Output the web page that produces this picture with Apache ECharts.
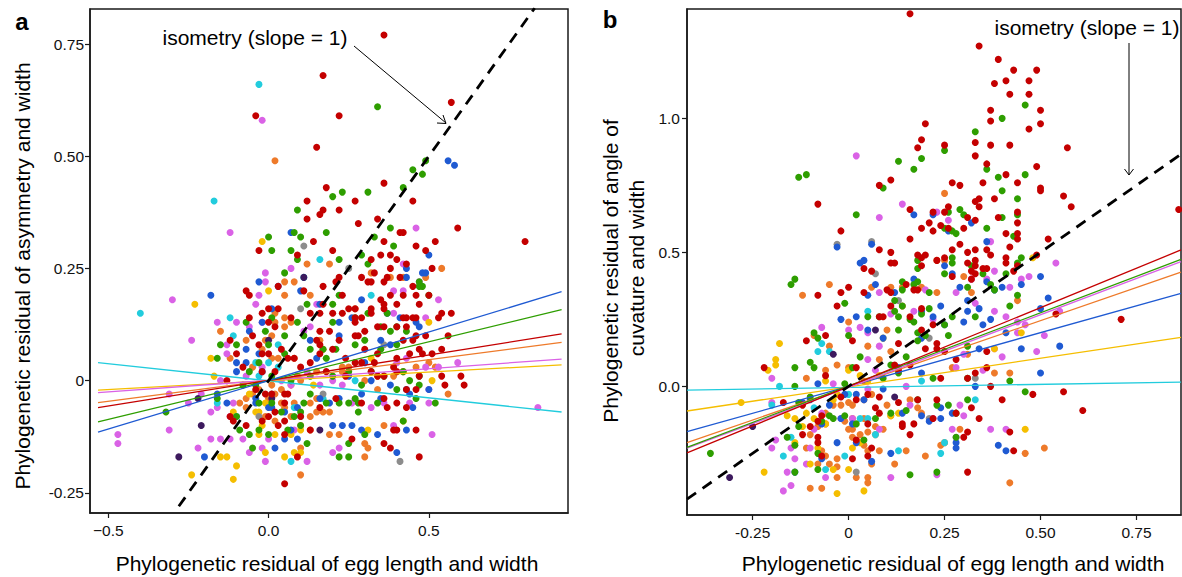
<!DOCTYPE html>
<html><head><meta charset="utf-8">
<script src="https://cdn.jsdelivr.net/npm/echarts@6/dist/echarts.min.js"></script>
<style>html,body{margin:0;padding:0;background:#fff}#c{width:1182px;height:577px}</style>
</head><body><div id="c"></div>
<script>
// ---------- Panel a : asymmetry vs egg length ----------
const aRed = [[0.36,0.77],[0.17,0.68],[-0.04,0.59],[0.22,0.59],[0.57,0.62],[0.15,0.52],[0.36,0.44],[0.18,0.43],[0.12,0.40],[0.27,0.40],[0.45,0.40],[0.17,0.38],[0.16,0.37],[0.22,0.38],[0.12,0.36],[0.34,0.36],[0.28,0.35],[0.59,0.34],[0.41,0.33],[0.42,0.33],[0.80,0.31],[0.52,0.31],[0.46,0.30],[0.14,0.31],[0.36,0.31],[-0.03,0.29],[0.09,0.28],[0.20,0.29],[0.49,0.29],[0.35,0.28],[0.38,0.28],[0.40,0.27],[0.43,0.26],[0.51,0.25],[0.32,0.27],[0.38,0.25],[0.03,0.21],[-0.07,0.20],[-0.06,0.19],[0.11,0.20],[0.17,0.21],[0.21,0.22],[0.22,0.23],[0.23,0.19],[0.29,0.23],[0.31,0.22],[0.32,0.22],[0.33,0.24],[0.36,0.22],[0.37,0.23],[0.41,0.23],[0.45,0.21],[0.46,0.19],[0.50,0.19],[0.42,0.19],[0.47,0.17],[0.35,0.18],[0.36,0.17],[0.32,0.16],[0.32,0.15],[0.36,0.16],[0.42,0.14],[0.43,0.14],[0.45,0.14],[0.46,0.14],[0.53,0.14],[0.57,0.15],[0.54,0.15],[0.40,0.17],[0.38,0.19],[0.27,0.16],[0.27,0.14],[0.25,0.16],[0.29,0.14],[0.23,0.15],[0.20,0.15],[0.17,0.17],[0.16,0.15],[0.13,0.15],[0.07,0.14],[0.03,0.16],[0.00,0.16],[-0.02,0.15],[0.00,0.13],[0.02,0.12],[-0.06,0.14],[-0.05,0.10],[-0.03,0.08],[-0.02,0.06],[0.00,0.06],[0.04,0.07],[0.06,0.05],[0.08,0.05],[0.15,0.09],[0.16,0.08],[0.16,0.11],[0.19,0.11],[0.20,0.07],[0.22,0.09],[0.27,0.10],[0.27,0.13],[0.28,0.10],[0.30,0.11],[0.34,0.12],[0.36,0.12],[0.40,0.12],[0.43,0.12],[0.42,0.09],[0.45,0.09],[0.47,0.07],[0.46,0.10],[0.49,0.10],[0.56,0.10],[0.54,0.07],[0.51,0.06],[0.48,0.06],[0.44,0.06],[0.40,0.05],[0.34,0.06],[0.33,0.04],[0.30,0.07],[0.29,0.04],[0.24,0.05],[0.27,0.04],[0.16,0.06],[0.13,0.04],[0.10,0.03],[0.18,0.02],[0.24,0.01],[0.32,0.02],[0.39,0.03],[0.47,0.01],[0.54,0.01],[0.60,0.01],[0.61,-0.01],[0.55,-0.01],[0.46,-0.02],[0.43,-0.02],[0.40,0.02],[0.36,0.01],[0.34,0.01],[0.02,0.02],[-0.02,0.02],[-0.08,0.03],[-0.10,0.06],[-0.12,0.09],[-0.13,0.00],[-0.04,-0.02],[-0.01,-0.03],[0.01,-0.03],[0.05,-0.03],[0.06,-0.03],[0.05,-0.05],[0.00,-0.08],[-0.02,-0.09],[0.03,-0.10],[0.05,-0.09],[0.10,-0.08],[0.13,-0.11],[0.16,-0.06],[0.21,-0.04],[0.29,-0.05],[0.36,-0.04],[0.37,-0.06],[0.40,-0.05],[0.43,-0.06],[0.39,-0.11],[0.40,-0.11],[0.46,-0.11],[0.36,-0.14],[0.38,-0.15],[0.47,-0.17],[0.26,-0.13],[0.05,-0.12],[0.05,-0.23],[0.09,-0.17],[-0.07,-0.10],[-0.11,-0.09],[-0.12,-0.08],[0.02,-0.07]];
const aGreen = [[0.34,0.61],[0.49,0.49],[0.45,0.47],[0.48,0.46],[0.42,0.43],[0.23,0.42],[0.31,0.42],[0.20,0.41],[0.09,0.38],[0.18,0.33],[0.08,0.33],[0.10,0.32],[0.00,0.32],[0.01,0.29],[0.07,0.29],[0.09,0.27],[0.05,0.24],[0.22,0.27],[0.29,0.28],[0.31,0.26],[0.33,0.32],[0.38,0.34],[0.39,0.30],[0.22,0.19],[0.20,0.17],[0.12,0.17],[0.09,0.13],[0.01,0.14],[-0.07,0.13],[-0.01,0.11],[0.05,0.10],[0.11,0.10],[0.20,0.13],[0.27,0.14],[0.31,0.15],[0.35,0.12],[0.37,0.15],[0.40,0.12],[0.47,0.22],[0.47,0.21],[0.48,0.21],[0.50,0.19],[0.43,0.11],[0.38,0.11],[0.40,0.08],[0.35,0.07],[0.30,0.09],[0.27,0.08],[0.21,0.07],[0.17,0.07],[0.13,0.07],[0.05,0.06],[0.00,0.08],[-0.03,0.04],[-0.06,0.02],[-0.10,0.08],[-0.15,0.08],[-0.16,0.05],[-0.08,-0.01],[-0.04,-0.01],[0.01,0.01],[0.07,0.00],[0.13,0.01],[0.18,0.05],[0.20,0.01],[0.25,0.02],[0.29,-0.01],[0.32,0.02],[0.36,0.01],[0.42,0.02],[0.44,0.00],[0.47,-0.01],[0.47,0.01],[0.52,-0.05],[0.46,-0.04],[0.42,-0.09],[0.40,-0.02],[0.34,-0.05],[0.28,-0.05],[0.27,-0.04],[0.25,-0.05],[0.22,-0.05],[0.18,-0.05],[0.13,-0.03],[0.11,-0.05],[0.10,-0.07],[0.08,-0.08],[0.04,-0.07],[0.01,-0.05],[-0.03,-0.05],[-0.03,-0.11],[-0.09,-0.11],[-0.06,-0.12],[-0.05,-0.15],[0.00,-0.12],[0.06,-0.11],[0.10,-0.10],[0.12,-0.14],[0.22,-0.17],[0.25,-0.17],[0.28,-0.07],[0.30,-0.12],[0.25,-0.14],[-0.32,-0.07],[-0.16,-0.04],[-0.10,-0.08]];
const aBlue = [[0.56,0.49],[0.58,0.48],[0.07,0.33],[-0.03,0.22],[-0.18,0.19],[0.03,0.21],[0.10,0.20],[0.16,0.17],[0.22,0.13],[0.26,0.14],[0.29,0.18],[0.43,0.23],[0.43,0.25],[0.48,0.24],[0.49,0.24],[0.50,0.28],[0.37,0.15],[0.41,0.14],[0.46,0.13],[0.47,0.12],[0.35,0.09],[0.38,0.08],[0.30,0.04],[0.32,0.00],[0.38,-0.01],[0.43,-0.02],[0.44,-0.03],[0.50,-0.02],[0.35,-0.04],[0.29,-0.03],[0.22,-0.04],[0.19,-0.05],[0.16,-0.04],[0.09,-0.06],[0.05,-0.07],[0.01,-0.06],[0.00,-0.06],[-0.04,-0.05],[-0.04,-0.04],[-0.07,0.04],[-0.02,0.02],[-0.03,0.06],[-0.07,0.07],[-0.06,0.11],[-0.02,0.13],[0.01,0.16],[0.13,0.09],[0.15,0.05],[0.22,0.10],[0.25,0.01],[0.26,-0.10],[0.29,-0.11],[0.34,-0.12],[0.40,-0.16],[0.43,-0.11],[0.20,-0.10],[0.23,-0.10],[0.07,-0.11],[0.09,-0.13],[0.02,-0.15],[-0.20,-0.17],[-0.16,-0.03],[-0.10,0.02],[-0.10,0.04],[-0.13,-0.05],[0.45,-0.06],[0.05,-0.13]];
const aOrange = [[0.02,0.49],[0.12,0.26],[0.19,0.26],[0.54,0.25],[0.49,0.23],[0.42,0.23],[0.38,0.23],[0.32,0.24],[0.27,0.16],[0.13,0.19],[0.08,0.22],[0.05,0.22],[0.05,0.19],[0.02,0.15],[0.05,0.14],[0.05,0.12],[0.07,0.13],[0.02,0.13],[0.01,0.10],[-0.01,0.09],[-0.02,0.07],[-0.07,0.09],[-0.15,0.11],[-0.12,0.05],[-0.05,0.03],[0.01,0.05],[0.03,0.05],[0.08,0.05],[0.09,0.01],[0.10,0.00],[0.07,-0.01],[0.04,-0.02],[0.02,-0.03],[0.04,-0.05],[0.00,-0.04],[0.08,-0.05],[0.13,-0.05],[0.15,-0.07],[0.17,-0.07],[0.19,-0.07],[0.13,-0.08],[0.10,-0.10],[0.13,-0.11],[0.19,-0.12],[0.22,-0.12],[0.30,-0.14],[0.31,-0.15],[0.30,-0.17],[0.36,-0.10],[0.15,-0.04],[0.16,0.09],[0.17,0.07],[0.15,0.02],[0.23,0.03],[0.25,0.03],[0.23,0.02],[0.30,0.00],[0.34,0.01],[0.39,0.01],[0.46,0.03],[0.56,-0.03],[0.52,0.03],[0.50,0.04],[0.42,0.02],[-0.09,-0.05],[-0.07,-0.04],[-0.05,-0.03],[-0.03,-0.02],[0.01,-0.01],[-0.07,-0.06],[0.05,-0.06],[-0.01,-0.08],[0.02,-0.09],[0.10,-0.15],[0.10,-0.21],[0.34,-0.02],[0.07,-0.08]];
const aMagenta = [[-0.02,0.58],[-0.12,0.33],[-0.30,0.18],[-0.24,0.09],[-0.16,0.13],[-0.13,0.08],[-0.10,0.13],[-0.06,0.12],[-0.02,0.13],[-0.01,0.24],[-0.01,0.22],[-0.04,0.17],[-0.03,0.19],[0.07,0.25],[0.13,0.12],[0.15,0.17],[0.11,0.11],[0.46,0.34],[0.42,0.26],[0.39,0.20],[0.47,0.22],[0.42,0.20],[0.53,0.18],[0.49,0.14],[0.39,0.15],[0.40,0.04],[0.43,0.05],[0.53,0.03],[0.59,0.04],[0.49,0.03],[0.50,-0.02],[0.50,-0.05],[0.44,-0.05],[0.39,-0.10],[0.32,-0.06],[0.36,-0.05],[0.26,-0.05],[0.23,-0.01],[0.20,0.00],[0.16,-0.01],[0.12,0.02],[0.07,-0.01],[0.04,0.00],[-0.02,0.03],[-0.07,0.01],[-0.13,0.06],[-0.15,0.00],[-0.21,-0.03],[-0.25,-0.05],[-0.31,-0.03],[-0.31,-0.11],[-0.47,-0.12],[-0.47,-0.14],[-0.15,-0.13],[-0.22,-0.15],[-0.12,-0.13],[-0.08,-0.13],[-0.06,-0.16],[-0.02,-0.15],[-0.01,-0.18],[0.00,-0.13],[0.08,-0.11],[0.12,-0.18],[0.20,-0.16],[0.22,-0.15],[0.51,-0.12],[0.84,-0.06],[-0.11,-0.05],[-0.12,-0.08],[-0.16,-0.06],[-0.18,-0.07],[-0.18,-0.13]];
const aYellow = [[-0.02,0.31],[0.00,0.20],[-0.23,0.17],[0.50,0.13],[0.51,0.00],[-0.18,0.05],[-0.17,0.01],[-0.08,-0.01],[-0.06,-0.03],[-0.04,-0.07],[-0.03,-0.12],[-0.02,-0.10],[-0.01,-0.16],[0.02,-0.12],[0.07,-0.12],[0.10,-0.11],[0.08,-0.16],[0.10,-0.16],[0.05,-0.17],[-0.15,-0.17],[-0.13,-0.17],[-0.10,-0.19],[-0.11,-0.22],[-0.24,-0.21],[-0.03,-0.07],[-0.11,-0.07],[-0.01,-0.05],[0.14,-0.01],[0.31,-0.11],[0.42,-0.09],[0.32,0.05]];
const aCyan = [[-0.03,0.66],[-0.17,0.40],[-0.40,0.15],[0.16,0.27],[0.32,0.19],[0.11,0.23],[-0.12,0.14],[-0.11,0.10],[0.03,0.08],[0.00,0.04],[-0.03,0.01],[-0.04,0.04],[-0.16,-0.05],[-0.10,-0.08],[0.08,-0.06],[0.10,-0.08],[0.07,-0.18],[0.27,0.00],[0.17,-0.04],[0.03,0.03]];
const aGray = [[0.11,0.30],[0.25,0.25],[0.10,0.16],[0.36,0.08],[0.01,-0.03],[-0.03,-0.08],[0.17,-0.03],[0.41,-0.18]];
const aPurple = [[0.11,0.23],[0.00,0.09],[-0.22,-0.04],[-0.21,-0.10],[-0.28,-0.17],[0.16,-0.11],[0.01,-0.04]];
// fitted lines (x range, y at both ends)
const aFitX = [-0.532, 0.914];
const aFitCyan = [0.040, -0.070];
const aFitYellow = [-0.021, 0.035];
const aFitMagenta = [-0.027, 0.048];
const aFitOrange = [-0.049, 0.085];
const aFitRed = [-0.060, 0.104];
const aFitGreen = [-0.092, 0.158];
const aFitBlue = [-0.115, 0.198];
const aIsoX = [-0.28, 0.83];
const aXTicks = [-0.5, 0, 0.5];
const aXLabels = ['\u22120.5', '0.0', '0.5'];
const aYTicks = [-0.25, 0, 0.25, 0.5, 0.75];
const aYLabels = ['-0.25', '0', '0.25', '0.50', '0.75'];

// ---------- Panel b : angle of curvature vs egg length ----------
const bRed = [[0.16,1.39],[0.34,1.27],[0.39,1.22],[0.43,1.18],[0.49,1.18],[0.41,1.14],[0.38,1.13],[0.47,1.14],[0.42,1.09],[0.47,1.09],[0.50,1.03],[0.37,1.03],[0.37,0.99],[0.50,0.98],[0.47,0.96],[0.20,0.98],[0.19,0.92],[0.18,0.89],[0.25,0.90],[0.33,0.91],[0.37,0.90],[0.42,0.90],[0.57,0.89],[0.33,0.86],[0.36,0.83],[0.49,0.82],[0.41,0.79],[0.44,0.76],[0.27,0.76],[0.29,0.75],[0.35,0.76],[0.38,0.70],[0.50,0.74],[0.50,0.73],[0.56,0.71],[0.58,0.67],[0.86,0.66],[0.08,0.75],[0.34,0.70],[0.33,0.69],[0.44,0.65],[0.44,0.61],[0.39,0.63],[0.41,0.57],[0.44,0.57],[0.34,0.67],[0.31,0.63],[0.33,0.62],[0.22,0.65],[0.25,0.65],[0.24,0.60],[0.26,0.59],[0.30,0.59],[0.19,0.59],[0.21,0.61],[0.22,0.58],[0.26,0.67],[0.16,0.66],[0.11,0.77],[-0.02,0.58],[-0.08,0.68],[0.08,0.51],[0.04,0.44],[0.11,0.50],[0.06,0.43],[0.11,0.46],[0.12,0.46],[0.18,0.49],[0.19,0.48],[0.20,0.49],[0.16,0.55],[0.29,0.53],[0.31,0.50],[0.33,0.51],[0.36,0.51],[0.42,0.52],[0.44,0.55],[0.37,0.49],[0.41,0.48],[0.41,0.46],[0.44,0.45],[0.43,0.43],[0.52,0.55],[0.49,0.49],[0.33,0.47],[0.31,0.46],[0.32,0.43],[0.33,0.42],[0.35,0.44],[0.36,0.44],[0.32,0.40],[0.33,0.45],[0.27,0.51],[0.25,0.48],[0.23,0.47],[0.19,0.45],[0.17,0.36],[0.19,0.29],[0.27,0.41],[0.22,0.23],[0.23,0.14],[0.23,0.16],[0.16,0.26],[0.18,0.36],[0.15,0.38],[0.11,0.35],[0.10,0.36],[0.11,0.30],[0.08,0.26],[0.04,0.35],[0.00,0.37],[-0.02,0.35],[-0.03,0.30],[-0.08,0.34],[-0.06,0.19],[-0.11,0.17],[0.01,0.17],[0.09,0.26],[0.19,0.21],[0.13,0.16],[0.20,0.14],[0.25,0.13],[0.28,0.10],[0.33,0.05],[0.36,0.13],[0.36,0.07],[0.37,0.00],[0.40,-0.05],[0.48,-0.03],[0.54,0.27],[0.56,-0.02],[0.61,-0.09],[0.71,0.25],[-0.22,0.07],[-0.06,0.04],[0.02,0.07],[-0.02,-0.04],[0.02,-0.05],[0.05,-0.03],[0.08,-0.04],[0.07,-0.08],[0.13,0.06],[0.13,-0.06],[0.18,-0.05],[0.23,-0.05],[0.22,-0.12],[0.24,0.03],[0.14,-0.14],[0.14,-0.15],[0.16,-0.18],[0.17,-0.14],[0.08,-0.10],[0.05,-0.14],[0.02,-0.20],[0.01,-0.27],[0.05,-0.26],[-0.08,-0.19],[-0.08,-0.21],[-0.08,-0.13],[-0.10,-0.15],[-0.12,-0.18],[-0.07,-0.26],[-0.17,-0.06],[0.31,-0.17],[0.30,-0.19],[0.31,-0.32],[0.42,-0.17],[0.43,-0.24],[0.34,-0.12],[0.31,0.03],[0.32,-0.08],[0.28,-0.10],[0.06,-0.23],[0.12,0.08],[0.16,0.08],[-0.12,-0.07],[-0.07,-0.11]];
const bGreen = [[0.46,1.05],[0.40,1.00],[0.33,0.95],[0.25,0.88],[0.19,0.85],[0.17,0.81],[0.13,0.84],[0.36,0.81],[0.46,0.79],[0.39,0.78],[0.40,0.73],[0.44,0.70],[0.29,0.66],[0.26,0.65],[0.25,0.59],[0.27,0.58],[0.28,0.57],[0.30,0.64],[0.36,0.59],[0.40,0.63],[0.44,0.64],[0.43,0.56],[0.02,0.64],[0.09,0.74],[-0.13,0.78],[-0.11,0.79],[-0.14,0.40],[-0.15,0.38],[0.27,0.48],[0.27,0.46],[0.25,0.42],[0.18,0.47],[0.18,0.44],[0.18,0.39],[0.17,0.38],[0.14,0.39],[0.14,0.36],[0.12,0.32],[0.12,0.28],[0.14,0.30],[0.13,0.26],[0.16,0.25],[0.19,0.27],[0.21,0.29],[0.17,0.24],[0.13,0.21],[0.21,0.35],[0.32,0.45],[0.31,0.37],[0.37,0.38],[0.35,0.42],[0.38,0.36],[0.41,0.42],[0.42,0.30],[0.44,0.34],[0.45,0.48],[0.44,0.46],[0.33,0.26],[0.27,0.26],[0.25,0.23],[0.26,0.19],[0.20,0.19],[0.18,0.20],[0.18,0.17],[0.15,0.11],[0.11,0.08],[0.13,0.05],[0.09,0.03],[0.05,0.26],[0.08,0.26],[-0.01,0.31],[0.00,0.19],[0.03,0.11],[0.01,0.07],[-0.01,0.01],[-0.09,0.20],[-0.08,0.18],[-0.09,0.07],[-0.10,0.09],[-0.14,0.07],[-0.14,0.00],[-0.13,-0.06],[-0.10,-0.04],[-0.05,-0.11],[-0.07,-0.13],[-0.04,-0.12],[-0.13,-0.15],[-0.16,-0.19],[-0.14,-0.22],[-0.14,-0.32],[-0.08,-0.31],[-0.08,-0.25],[-0.01,-0.11],[0.02,-0.14],[0.04,-0.20],[0.07,-0.12],[0.11,-0.10],[0.15,-0.09],[0.18,-0.05],[0.23,-0.07],[0.26,-0.07],[0.28,-0.10],[0.31,-0.05],[0.42,0.02],[0.46,-0.02],[0.28,-0.19],[0.23,-0.32],[0.16,-0.33],[-0.36,-0.25],[0.31,0.15],[0.31,0.03],[0.22,0.03]];
const bBlue = [[0.17,0.64],[0.32,0.61],[0.26,0.58],[0.25,0.45],[0.22,0.64],[0.27,0.42],[0.36,0.54],[-0.03,0.52],[0.03,0.46],[0.04,0.47],[0.06,0.53],[0.36,0.39],[0.29,0.37],[0.40,0.37],[0.45,0.38],[0.50,0.41],[0.52,0.33],[0.55,0.15],[0.50,0.05],[0.45,0.14],[0.41,0.20],[0.50,0.29],[0.17,0.40],[0.12,0.35],[0.07,0.38],[0.05,0.34],[0.02,0.26],[-0.02,0.25],[0.05,0.21],[0.09,0.18],[0.19,0.28],[0.22,0.26],[0.24,0.30],[0.25,0.23],[0.31,0.28],[0.30,0.24],[0.35,0.23],[0.37,0.25],[0.34,0.14],[0.38,0.36],[0.31,0.32],[0.34,0.29],[0.33,0.00],[0.19,0.18],[0.19,0.05],[0.13,0.07],[0.09,-0.01],[0.04,-0.05],[0.02,-0.03],[-0.01,-0.03],[-0.05,-0.07],[-0.08,0.01],[-0.10,-0.05],[-0.12,-0.06],[-0.02,-0.12],[0.01,-0.14],[0.02,-0.21],[-0.03,-0.21],[0.06,-0.28],[0.11,-0.25],[0.14,-0.10],[0.19,-0.11],[0.21,-0.13],[0.24,-0.12],[0.24,-0.08],[0.27,-0.10],[0.28,-0.21],[0.28,-0.23],[0.39,-0.22],[0.41,-0.24],[-0.14,-0.32],[-0.07,-0.14],[-0.07,-0.27]];
const bOrange = [[0.25,0.72],[0.23,0.47],[0.25,0.47],[0.30,0.41],[0.23,0.35],[0.19,0.37],[0.14,0.37],[0.14,0.30],[0.11,0.37],[0.06,0.37],[-0.05,0.38],[-0.12,0.34],[-0.09,0.19],[-0.05,0.15],[-0.03,0.08],[0.00,0.07],[0.00,0.24],[0.05,0.15],[0.10,0.21],[0.11,0.13],[0.08,0.10],[0.04,0.02],[0.06,-0.03],[0.04,-0.05],[0.01,-0.07],[0.00,-0.06],[-0.02,-0.07],[-0.04,-0.07],[-0.06,-0.10],[-0.06,-0.14],[-0.08,-0.15],[-0.10,-0.18],[-0.11,-0.23],[-0.07,-0.24],[-0.06,-0.26],[-0.08,-0.29],[-0.05,-0.29],[-0.03,-0.30],[0.00,-0.16],[0.01,-0.16],[0.01,-0.19],[0.03,-0.18],[0.05,-0.17],[0.04,-0.22],[0.05,-0.24],[0.06,-0.29],[0.05,-0.34],[0.05,-0.36],[-0.03,-0.27],[-0.03,-0.34],[-0.07,-0.38],[-0.10,-0.38],[0.02,-0.34],[0.08,-0.24],[0.12,-0.29],[0.15,-0.24],[0.10,-0.07],[0.11,-0.11],[0.16,-0.05],[0.18,-0.08],[0.19,-0.10],[0.20,-0.26],[0.24,-0.22],[0.25,-0.21],[0.27,0.07],[0.29,-0.16],[0.31,0.12],[0.38,0.05],[0.42,0.05],[0.42,-0.36],[0.51,-0.23],[0.46,-0.25],[0.44,0.32],[0.32,0.35],[-0.11,0.03],[-0.06,0.06],[0.09,-0.16],[0.07,-0.15],[0.07,-0.18],[0.04,-0.12],[0.01,-0.12],[-0.01,-0.13]];
const bMagenta = [[0.02,0.86],[0.08,0.63],[0.14,0.68],[0.23,0.65],[0.26,0.62],[0.08,0.35],[0.03,0.22],[0.00,0.21],[0.05,0.20],[0.08,0.15],[0.11,0.27],[0.17,0.28],[0.22,0.25],[0.20,0.36],[0.28,0.35],[0.32,0.40],[0.36,0.40],[0.37,0.54],[0.38,0.43],[0.42,0.37],[0.45,0.40],[0.47,0.41],[0.54,0.46],[0.51,0.19],[0.46,0.23],[0.44,0.20],[0.55,0.28],[0.33,0.31],[0.38,0.28],[0.41,0.26],[0.40,0.11],[0.38,0.14],[0.49,0.13],[0.30,0.12],[0.28,0.07],[0.44,0.24],[0.29,-0.07],[0.30,-0.11],[0.27,-0.16],[0.28,-0.19],[0.35,0.06],[0.37,-0.16],[0.41,-0.16],[0.23,-0.33],[0.22,-0.12],[0.16,-0.07],[0.15,0.00],[0.11,-0.34],[0.08,-0.16],[0.07,0.06],[0.05,0.10],[-0.04,0.01],[-0.07,-0.10],[-0.09,-0.16],[-0.10,-0.23],[-0.15,-0.23],[-0.14,-0.27],[-0.16,-0.32],[-0.15,-0.37],[-0.17,-0.39],[-0.19,-0.20],[-0.20,-0.23],[-0.20,0.03],[-0.20,-0.06],[-0.06,-0.34],[-0.11,-0.29],[-0.07,0.22],[-0.02,-0.12],[0.01,-0.12],[0.05,-0.01]];
const bYellow = [[0.48,0.48],[0.45,0.20],[0.38,0.14],[0.46,-0.16],[0.09,0.18],[0.08,0.04],[0.05,0.02],[0.03,0.04],[0.00,0.06],[-0.06,-0.14],[-0.09,-0.12],[-0.12,-0.15],[-0.14,-0.12],[-0.16,-0.11],[-0.14,-0.21],[-0.18,0.16],[-0.19,0.10],[-0.19,0.08],[-0.21,0.06],[-0.28,-0.06],[-0.22,-0.32],[-0.10,-0.29],[-0.08,-0.23],[-0.04,-0.31],[-0.03,-0.40],[0.00,-0.31],[0.04,-0.39],[0.01,-0.23],[0.03,-0.21],[0.11,-0.11],[0.13,-0.10],[-0.04,-0.05],[-0.03,-0.03],[-0.06,0.02],[-0.11,-0.10]];
const bCyan = [[0.05,0.28],[-0.07,0.16],[-0.05,0.13],[0.00,-0.03],[0.03,-0.12],[0.07,-0.18],[0.05,-0.12],[-0.01,-0.26],[-0.06,-0.31],[-0.17,-0.26],[-0.15,-0.19],[-0.20,-0.07],[-0.18,0.00],[0.13,-0.24],[0.24,-0.25],[0.25,-0.21],[0.19,0.02],[0.33,-0.05],[-0.08,0.13],[-0.09,-0.08]];
const bGray = [[-0.03,0.53],[0.06,0.54],[0.07,0.42],[0.13,0.32],[0.21,0.18],[0.33,0.03],[0.21,-0.12],[0.02,-0.32]];
const bPurple = [[-0.04,0.12],[0.07,0.21],[0.12,-0.04],[-0.25,-0.15],[-0.31,-0.34]];
const bFitX = [-0.421, 0.866];
const bFitCyan = [-0.014, 0.016];
const bFitYellow = [-0.092, 0.183];
const bFitBlue = [-0.169, 0.347];
const bFitOrange = [-0.210, 0.426];
const bFitMagenta = [-0.231, 0.465];
const bFitGreen = [-0.228, 0.474];
const bFitRed = [-0.248, 0.509];
const bIsoX = [-0.421, 0.866];
const bXTicks = [-0.25, 0, 0.25, 0.5, 0.75];
const bXLabels = ['-0.25', '0', '0.25', '0.50', '0.75'];
const bYTicks = [0, 0.5, 1.0];
const bYLabels = ['0.0', '0.5', '1.0'];

// ---------- rendering ----------
const FONT = '"Liberation Sans", Arial, Helvetica, sans-serif';
const C = {red:'#C40000', green:'#2E9E00', blue:'#1F5AD2', orange:'#EE7A2A', magenta:'#DA62E6',
           yellow:'#F5BE00', cyan:'#22CCDD', gray:'#8C8C8C', purple:'#3D1A5E'};
const INK = '#1a1a1a';

function sc(data, color, i) {
  return {type:'scatter', xAxisIndex:i, yAxisIndex:i, data:data, symbolSize:7,
          itemStyle:{color:color, opacity:1}, silent:true, z:2};
}
function fit(xs, ys, color, i) {
  return {type:'line', xAxisIndex:i, yAxisIndex:i, data:[[xs[0], ys[0]], [xs[1], ys[1]]],
          symbol:'none', silent:true, lineStyle:{color:color, width:1.3}, z:3};
}
function iso(xs, i) {
  return {type:'line', xAxisIndex:i, yAxisIndex:i, data:[[xs[0], xs[0]], [xs[1], xs[1]]],
          symbol:'none', silent:true, lineStyle:{color:'#000', width:2.8, type:[11, 8]}, z:4};
}
function xAx(i, min, max, ticks, labels) {
  return {type:'value', gridIndex:i, min:min, max:max, splitLine:{show:false},
    axisLine:{show:true, onZero:false, lineStyle:{color:INK, width:1.5}},
    axisTick:{show:true, inside:false, length:5, customValues:ticks, lineStyle:{color:INK, width:1.2}},
    axisLabel:{customValues:ticks, formatter:function(v){return labels[ticks.indexOf(v)];},
               margin:9, color:'#111', fontSize:15.5, fontFamily:FONT}};
}
function yAx(i, min, max, ticks, labels, margin) {
  return {type:'value', gridIndex:i, min:min, max:max, splitLine:{show:false},
    axisLine:{show:true, onZero:false, lineStyle:{color:INK, width:1.5}},
    axisTick:{show:true, inside:false, length:5, customValues:ticks, lineStyle:{color:INK, width:1.2}},
    axisLabel:{customValues:ticks, formatter:function(v){return labels[ticks.indexOf(v)];},
               margin:margin, color:'#111', fontSize:15.5, fontFamily:FONT}};
}

const series = [
  sc(aOrange, C.orange, 0), sc(aMagenta, C.magenta, 0), sc(aYellow, C.yellow, 0), sc(aCyan, C.cyan, 0),
  sc(aGray, C.gray, 0), sc(aPurple, C.purple, 0), sc(aBlue, C.blue, 0), sc(aGreen, C.green, 0), sc(aRed, C.red, 0),
  fit(aFitX, aFitCyan, C.cyan, 0), fit(aFitYellow.length ? aFitX : aFitX, aFitYellow, C.yellow, 0),
  fit(aFitX, aFitMagenta, C.magenta, 0), fit(aFitX, aFitOrange, C.orange, 0), fit(aFitX, aFitRed, C.red, 0),
  fit(aFitX, aFitGreen, C.green, 0), fit(aFitX, aFitBlue, C.blue, 0), iso(aIsoX, 0),

  sc(bOrange, C.orange, 1), sc(bMagenta, C.magenta, 1), sc(bYellow, C.yellow, 1), sc(bCyan, C.cyan, 1),
  sc(bGray, C.gray, 1), sc(bPurple, C.purple, 1), sc(bBlue, C.blue, 1), sc(bGreen, C.green, 1), sc(bRed, C.red, 1),
  fit(bFitX, bFitCyan, C.cyan, 1), fit(bFitX, bFitYellow, C.yellow, 1), fit(bFitX, bFitBlue, C.blue, 1),
  fit(bFitX, bFitOrange, C.orange, 1), fit(bFitX, bFitMagenta, C.magenta, 1), fit(bFitX, bFitGreen, C.green, 1),
  fit(bFitX, bFitRed, C.red, 1), iso(bIsoX, 1)
];

const tStyle = function(text, size, weight) {
  return {text:text, fill:'#000', font:(weight || 'normal') + ' ' + size + 'px ' + FONT,
          textAlign:'center', textVerticalAlign:'middle'};
};

const chart = echarts.init(document.getElementById('c'), null, {renderer:'svg'});
chart.setOption({
  animation:false,
  backgroundColor:'#fff',
  grid:[
    {left:90, top:9, width:478, height:504, show:true, borderColor:INK, borderWidth:1.5, backgroundColor:'transparent'},
    {left:687, top:9, width:494, height:506, show:true, borderColor:INK, borderWidth:1.5, backgroundColor:'transparent'}
  ],
  xAxis:[xAx(0, -0.557, 0.934, aXTicks, aXLabels), xAx(1, -0.421, 0.866, bXTicks, bXLabels)],
  yAxis:[yAx(0, -0.295, 0.828, aYTicks, aYLabels, 6), yAx(1, -0.480, 1.408, bYTicks, bYLabels, 7)],
  series:series,
  graphic:[
    {type:'text', x:22, y:21, style:tStyle('a', 24, 'bold')},
    {type:'text', x:610, y:19, style:tStyle('b', 24, 'bold')},
    {type:'text', x:327, y:563, style:tStyle('Phylogenetic residual of egg length and width', 21)},
    {type:'text', x:953, y:563, style:tStyle('Phylogenetic residual of egg length and width', 21)},
    {type:'text', x:22, y:276, rotation:Math.PI/2, style:tStyle('Phylogenetic residual of asymmetry and width', 21)},
    {type:'text', x:610, y:271, rotation:Math.PI/2, style:tStyle('Phylogenetic residual of angle of', 21)},
    {type:'text', x:636, y:268, rotation:Math.PI/2, style:tStyle('cuvature and width', 21)},
    {type:'text', x:255, y:37, style:tStyle('isometry (slope = 1)', 21)},
    {type:'text', x:1087, y:27, style:tStyle('isometry (slope = 1)', 21)},
    {type:'line', shape:{x1:354, y1:46, x2:446, y2:123}, style:{stroke:'#000', lineWidth:1}},
    {type:'polyline', shape:{points:[[437,123],[446,123.5],[443,115]]}, style:{stroke:'#000', fill:null, lineWidth:1}},
    {type:'line', shape:{x1:1129, y1:43, x2:1129, y2:175}, style:{stroke:'#000', lineWidth:1}},
    {type:'polyline', shape:{points:[[1124.5,169],[1129,175],[1133.5,169]]}, style:{stroke:'#000', fill:null, lineWidth:1}}
  ]
});
</script></body></html>
